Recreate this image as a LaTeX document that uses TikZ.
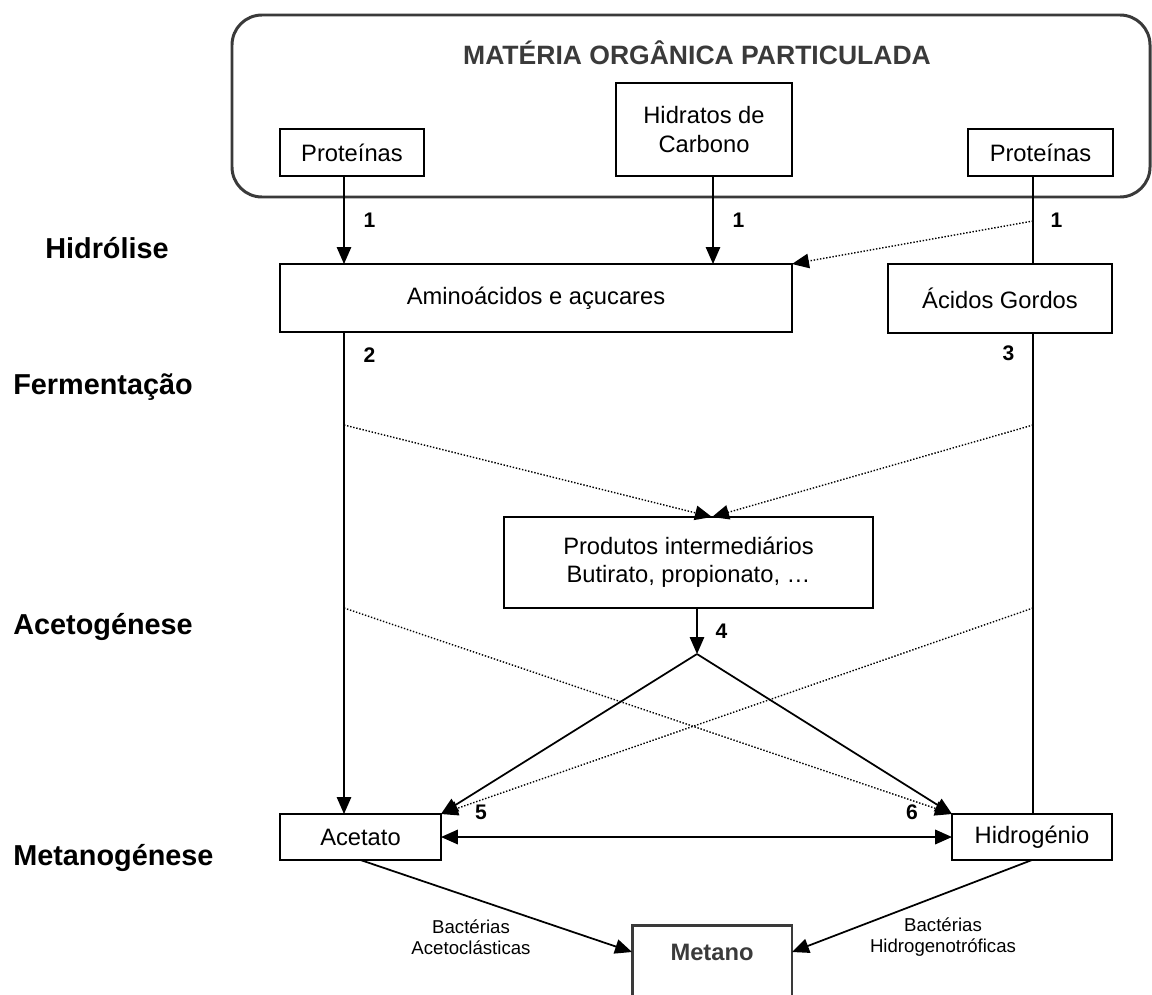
\documentclass[tikz,border=0pt]{standalone}
\usepackage{fontspec}
\setmainfont{Liberation Sans}
\usetikzlibrary{arrows.meta,calc,positioning}
\tikzset{>={Triangle[length=3.4mm,width=2.9mm]}}
\definecolor{cinza}{HTML}{3A3A3A}

\begin{document}
\begin{tikzpicture}[x=0.02cm,y=-0.02cm,
  caixa/.style={draw, line width=0.8pt, inner sep=0pt, outer sep=0pt, align=center, font=\fontsize{13.5}{16}\selectfont},
  fase/.style={anchor=west, inner sep=0pt, font=\fontsize{16.4}{19}\selectfont\bfseries},
  num/.style={inner sep=0pt, font=\fontsize{12}{14}\selectfont\bfseries},
  bact/.style={inner sep=0pt, align=center, font=\fontsize{10.6}{12}\selectfont},
  seta/.style={->, line width=0.75pt},
  pont/.style={->, line width=0.8pt, densely dotted},
  grossa/.style={->, line width=1pt}]
\useasboundingbox (0,0) rectangle (1152,994);

% Fases
\node[fase] (hidrolise) at (45,248) {Hidrólise};
\node[fase] (fermentacao) at (13,387) {Fermentação};
\node[fase] (acetogenese) at (13,627) {Acetogénese};
\node[fase] (metanogenese) at (13,858) {Metanogénese};

% Materia organica particulada
\draw[rounded corners=0.6cm, line width=1.7pt, draw=cinza] (232,15) rectangle (1150,197);
\node[font=\fontsize{15.1}{18}\selectfont\bfseries, text=cinza] (titulo) at (697,53) {MATÉRIA ORGÂNICA PARTICULADA};
\node[caixa, minimum width=2.88cm, minimum height=0.94cm] (protA) at (352,152.5) {Proteínas};
\node[caixa, minimum width=3.52cm, minimum height=1.86cm] (hidratos) at (704,129.5) {Hidratos de\\Carbono};
\node[caixa, minimum width=2.9cm, minimum height=0.94cm] (protB) at (1040.5,152.5) {Proteínas};

% Caixas
\node[caixa, minimum width=10.24cm, minimum height=1.36cm] (amino) at (536,298) {Aminoácidos e açucares};
\node[caixa, minimum width=4.48cm, minimum height=1.38cm] (acidos) at (1000,298.5) {Ácidos Gordos};
\node[caixa, minimum width=7.38cm, minimum height=1.82cm] (prod) at (688.5,562.5) {Produtos intermediários\\Butirato, propionato, …};
\node[caixa, minimum width=3.22cm, minimum height=0.92cm] (acet) at (360.5,837) {Acetato};
\node[caixa, minimum width=3.2cm, minimum height=0.92cm] (hidro) at (1032,837) {Hidrogénio};
\node[draw=cinza, line width=1.7pt, text=cinza, minimum width=3.2cm, inner xsep=0pt, inner ysep=10.5pt,
      text height=9.7pt, text depth=45pt, anchor=north, outer sep=0pt,
      font=\fontsize{13.5}{16}\selectfont\bfseries] (metano) at (712,925) {Metano};

% Pontos auxiliares
\coordinate (xL) at (344,0);
\coordinate (xM) at (713,0);
\coordinate (xR) at (1033,0);
\coordinate (h1) at (1033,221);
\coordinate (fL) at (344,425);
\coordinate (fR) at (1033,425);
\coordinate (fin) at ($(prod.north)+(23.5,0)$);
\coordinate (aL) at (344,608);
\coordinate (aR) at (1033,608);
\coordinate (apex) at (697,654);
\coordinate (metL) at ($(metano.north west)+(0,27)$);
\coordinate (metR) at ($(metano.north east)+(0,27)$);

% Hidrolise
\draw[seta] (protA.south -| xL) -- node[num, right=0.38cm] {1} (amino.north -| xL);
\draw[seta] (hidratos.south -| xM) -- node[num, right=0.38cm] {1} (amino.north -| xM);
\draw[line width=0.75pt] (protB.south -| xR) -- node[num, right=0.34cm] {1} (acidos.north -| xR);
\draw[pont] (h1) -- (amino.north east);

% Fermentacao
\draw[seta] (amino.south -| xL) -- node[num, pos=0.048, right=0.38cm] {2} (acet.north -| xL);
\draw[line width=0.75pt] (acidos.south -| xR) -- node[num, pos=0.042, left=0.36cm] {3} (hidro.north -| xR);
\draw[pont] (fL) -- (fin);
\draw[pont] (fR) -- (fin);

% Acetogenese
\draw[seta] (prod.south -| apex) -- node[num, right=0.36cm] {4} (apex);
\draw[pont] (aL) -- (hidro.north west);
\draw[pont] (aR) -- (acet.north east);
\draw[grossa] (apex) -- (acet.north east);
\draw[grossa] (apex) -- (hidro.north west);
\node[num] (n5) at (481,812) {5};
\node[num] (n6) at (912,812) {6};
\draw[<->, line width=1.2pt] (acet.east) -- (hidro.west);

% Metanogenese
\draw[grossa] (acet.south) -- (metL);
\draw[grossa] (hidro.south) -- (metR);
\node[bact] (bactA) at (471,937) {Bactérias\\Acetoclásticas};
\node[bact] (bactH) at (943,937) {Bactérias\\Hidrogenotróficas};

\end{tikzpicture}
\end{document}
